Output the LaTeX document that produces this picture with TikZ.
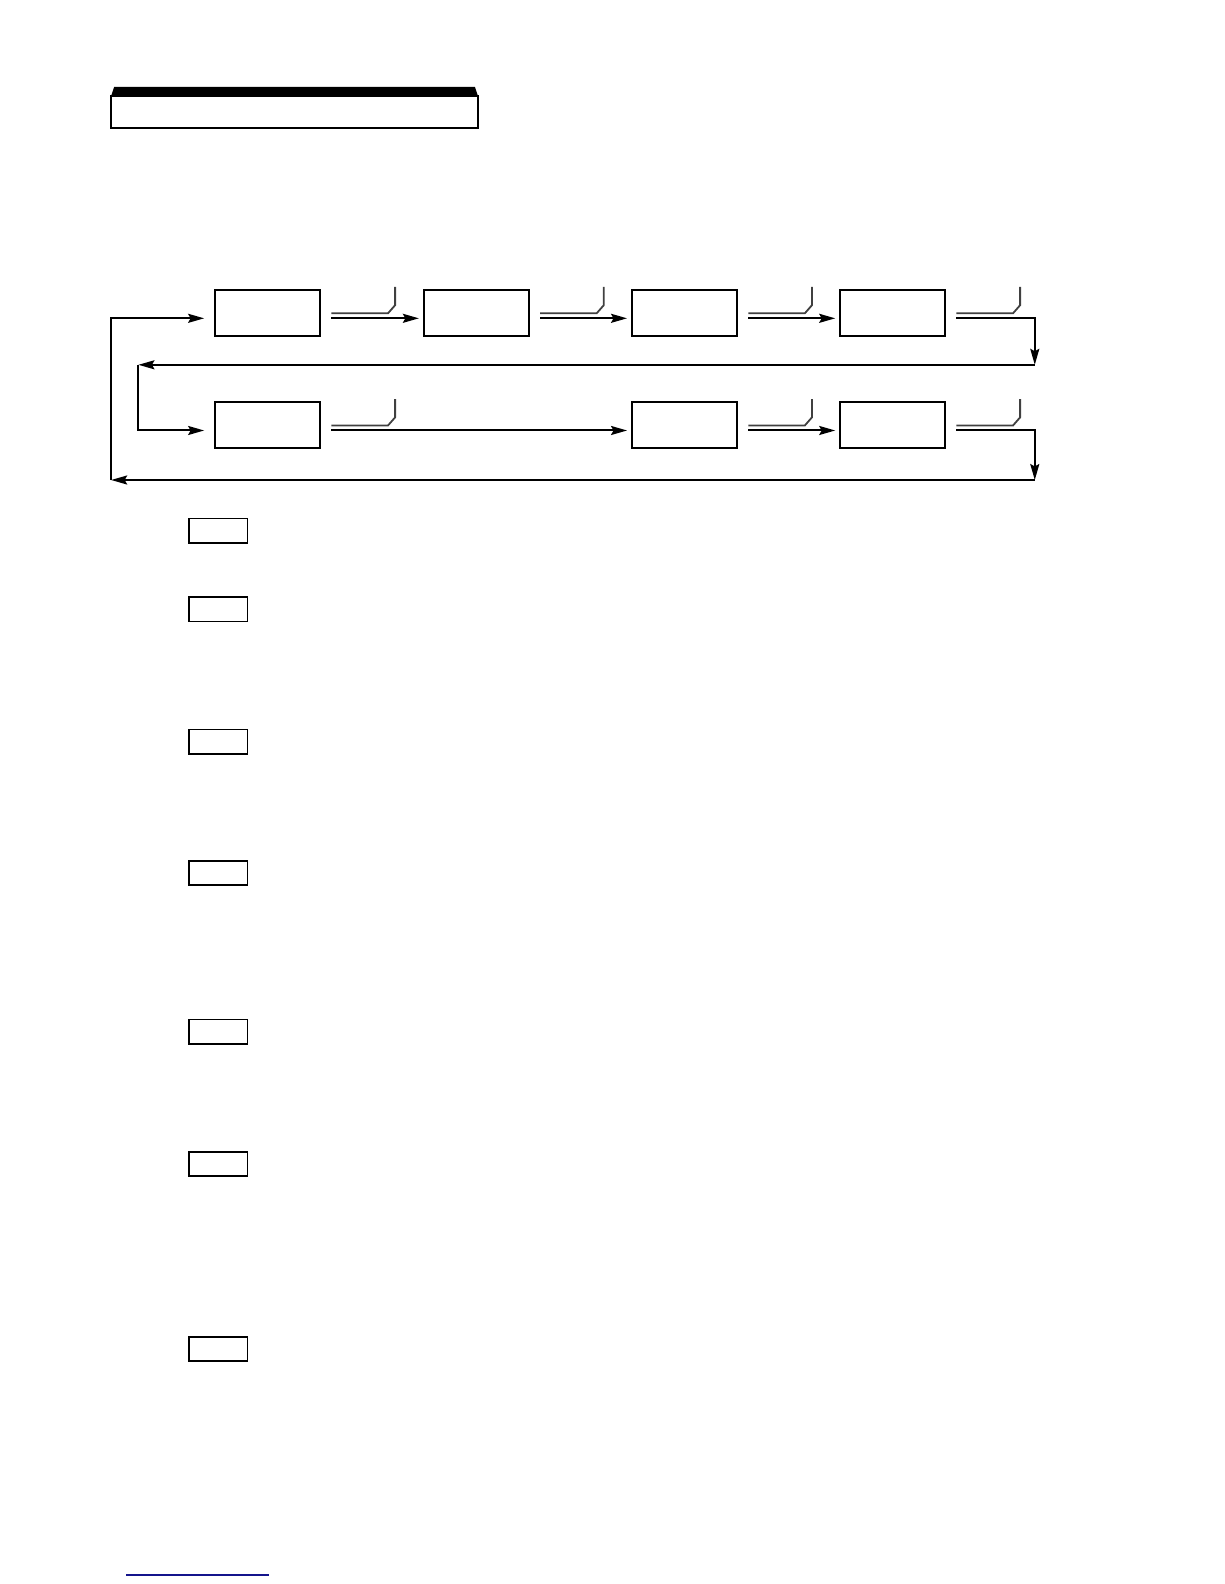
\documentclass[tikz,border=0pt]{standalone}
\usetikzlibrary{arrows.meta,calc}
\definecolor{footblue}{RGB}{20,20,140}
\begin{document}
\begin{tikzpicture}[x=1.0105pt,y=-1.0105pt,
  box/.style={draw,line width=2pt,minimum width=105.1pt,minimum height=45.5pt,inner sep=0pt},
  tag/.style={draw,line width=1.7pt,minimum width=58.6pt,minimum height=24.3pt,inner sep=0pt},
  wire/.style={line width=2pt},
  sw/.style={line width=1.8pt,black!75},
  arr/.style={wire,-{Stealth[length=16pt,width=9pt,inset=2.5pt]}}]
\useasboundingbox (0,0) rectangle (1211.3,1567.5);
% header
\fill (110,95) -- (113,86) -- (470,86) -- (473,95) -- cycle;
\draw[line width=2pt] (110,95) rectangle (473,127);
% boxes
\node[box] (a1) at (265,309.5) {};
\node[box] (a2) at (471.5,309.5) {};
\node[box] (a3) at (677.5,309.5) {};
\node[box] (a4) at (883.5,309.5) {};
\node[box] (b1) at (265,420.5) {};
\node[box] (b3) at (677.5,420.5) {};
\node[box] (b4) at (883.5,420.5) {};
% switches
\foreach \n in {a1,a2,a3,a4,b1,b3,b4}{
  \draw[sw] ($(\n.east)+(10,0.5)$) -- ++(56,0) -- ++(7,-8) -- ++(0,-18);
  \coordinate (\n o) at ($(\n.east)+(10,5.5)$);
  \coordinate (\n i) at ($(\n.west)+(-4,5.5)$);
}
\coordinate (a1in) at ($(a1.west)+(-10,5.5)$);
\coordinate (b1in) at ($(b1.west)+(-10,5.5)$);
\coordinate (r1) at (1024,361);
\coordinate (r2) at (1024,475);
\coordinate (l1) at (137,361);
\coordinate (l2) at (110,475);
% connectors
\draw[arr] (a1o) -- (a2i);
\draw[arr] (a2o) -- (a3i);
\draw[arr] (a3o) -- (a4i);
\draw[arr] (a4o) -| (r1);
\draw[arr] (r1) -- (l1);
\draw[arr] (l1) |- (b1in);
\draw[arr] (b1o) -- (b3i);
\draw[arr] (b3o) -- (b4i);
\draw[arr] (b4o) -| (r2);
\draw[arr] (r2) -- (l2);
\draw[arr] (l2) |- (a1in);
% tags
\node[tag] (t1) at (216,525) {};
\node[tag] (t2) at (216,603) {};
\node[tag] (t3) at (216,734) {};
\node[tag] (t4) at (216,864) {};
\node[tag] (t5) at (216,1021) {};
\node[tag] (t6) at (216,1152) {};
\node[tag] (t7) at (216,1335) {};
% footer line
\coordinate (f1) at (125,1558.5);
\coordinate (f2) at (266,1558.5);
\draw[footblue,line width=1.3pt] (f1) -- (f2);
\end{tikzpicture}
\end{document}
